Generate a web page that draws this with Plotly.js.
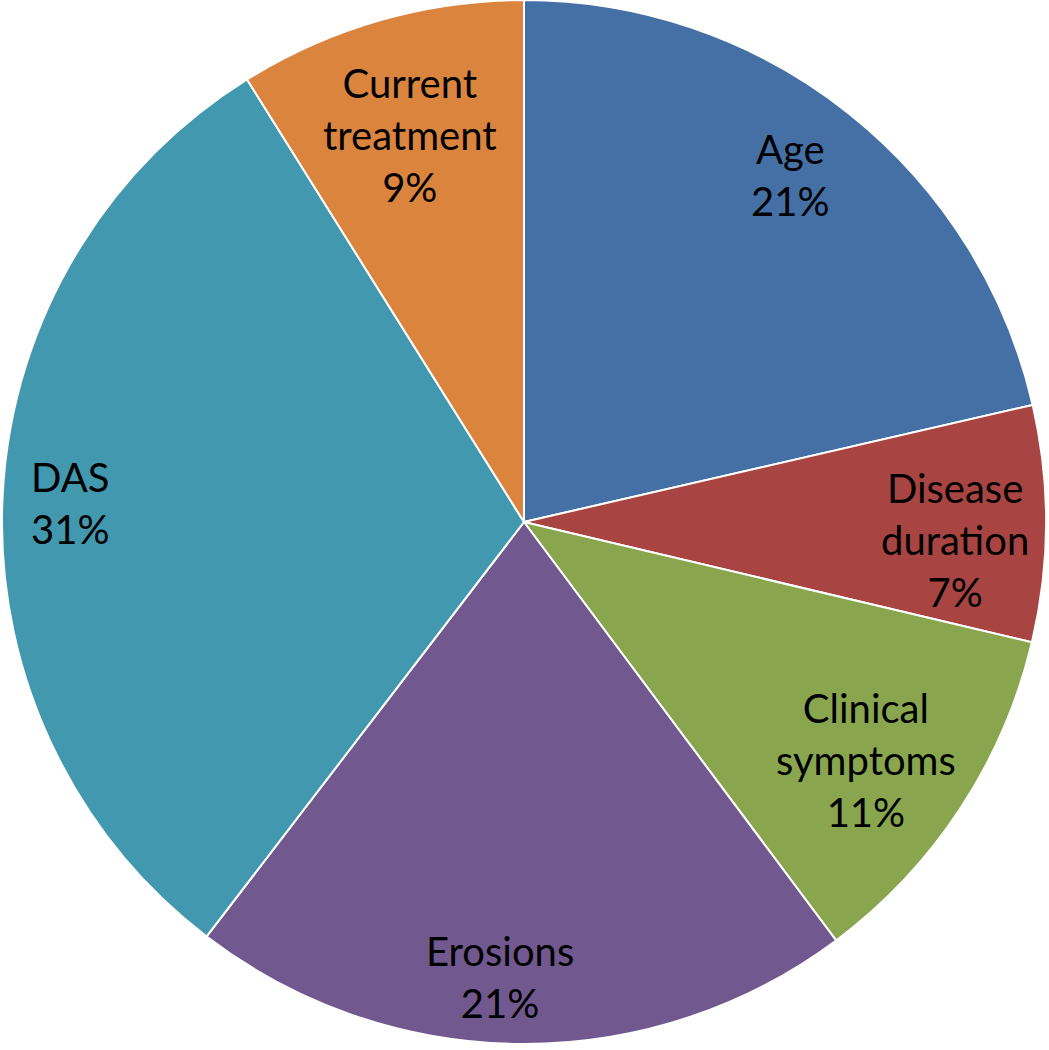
<!DOCTYPE html>
<html>
<head>
<meta charset="utf-8">
<script src="https://cdn.plot.ly/plotly-3.0.1.min.js"></script>
<style>html,body{margin:0;padding:0;background:#fff;}#chart{width:1049px;height:1050px;}</style>
</head>
<body>
<div id="chart"></div>
<script>
const categories = ["Age", "Disease<br>duration", "Clinical<br>symptoms", "Erosions", "DAS", "Current<br>treatment"];
const values = [21.4, 7.3, 11.1, 20.6, 30.7, 8.9];
const colors = ["#4570A6", "#A84442", "#89A64E", "#71588F", "#4198AF", "#DB843D"];
// label text centres (pixels in the 1049x1050 page)
const labelPos = [[790, 175], [955, 540], [866, 760], [500, 977], [70, 503], [410, 135]];

const total = values.reduce((a, b) => a + b, 0);
const W = 1049, H = 1050;
const annotations = categories.map((c, i) => ({
  text: c + "<br>" + Math.round(values[i] / total * 100) + "%",
  x: labelPos[i][0] / W, y: 1 - labelPos[i][1] / H,
  xref: "paper", yref: "paper", xanchor: "center", yanchor: "middle",
  showarrow: false, align: "center",
  font: {family: "Lato, 'Open Sans', sans-serif", size: 40, color: "#000"}
}));

Plotly.newPlot("chart", [{
  type: "pie",
  labels: categories,
  values: values,
  sort: false,
  direction: "clockwise",
  rotation: 0,
  marker: {colors: colors, line: {color: "#ffffff", width: 2}},
  textposition: "none",
  hoverinfo: "none",
  domain: {x: [0, 0.999], y: [0.0057, 1]}
}], {
  width: W, height: H,
  margin: {l: 0, r: 0, t: 0, b: 0},
  showlegend: false,
  paper_bgcolor: "#ffffff",
  annotations: annotations
}, {staticPlot: true});
</script>
</body>
</html>
